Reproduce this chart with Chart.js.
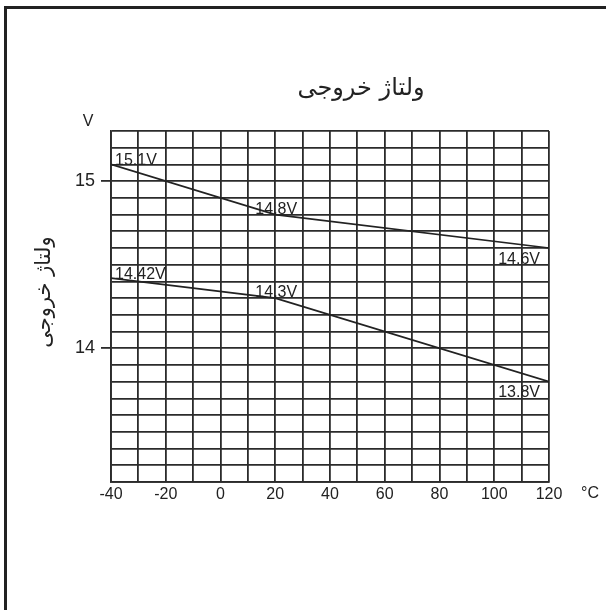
<!DOCTYPE html>
<html>
<head>
<meta charset="utf-8">
<script src="https://cdn.jsdelivr.net/npm/chart.js@4.4.1/dist/chart.umd.min.js"></script>
<style>
    html, body { margin: 0; padding: 0; background: #fff; }
    #wrap { position: relative; width: 606px; height: 610px; overflow: hidden; }
    #frame {
        position: absolute; left: 4px; top: 6px; width: 610px; height: 610px;
        border-left: 3px solid #222; border-top: 3px solid #222;
        pointer-events: none;
    }
</style>
</head>
<body>
<div id="wrap">
    <canvas id="chart" width="606" height="610"></canvas>
    <div id="frame"></div>
</div>
<script>
// Output voltage vs temperature
const temperatures = [-40, 20, 120];
const upperVoltage = [15.1, 14.8, 14.6];
const lowerVoltage = [14.42, 14.3, 13.8];
const xTickLabels = [-40, -20, 0, 20, 40, 60, 80, 100, 120];
const yTickLabels = [14, 15];
const chartTitle = 'ولتاژ خروجی';
const yAxisTitle = 'ولتاژ خروجی';
const xUnit = '°C';
const yUnit = 'V';

const ink = '#222';
const gridColor = '#2b2b2b';
const latin = '"Liberation Sans", Arial, sans-serif';
const arabic = '"DejaVu Sans", sans-serif';

const isLabelled = (list, v) => list.some(t => Math.abs(t - v) < 1e-6);

// Texts drawn on top: title, axis title, units, point values
const textPlugin = {
    id: 'texts',
    afterDraw(chart) {
        const ctx = chart.ctx;
        ctx.save();
        ctx.fillStyle = ink;

        // Title
        ctx.font = '24px ' + arabic;
        ctx.textAlign = 'center';
        ctx.textBaseline = 'alphabetic';
        ctx.fillText(chartTitle, 361, 95);

        // Y axis title (rotated)
        ctx.save();
        ctx.translate(50, 292);
        ctx.rotate(-Math.PI / 2);
        ctx.font = '21px ' + arabic;
        ctx.fillText(yAxisTitle, 0, 0);
        ctx.restore();

        // Units
        ctx.font = '16px ' + latin;
        ctx.textBaseline = 'middle';
        ctx.fillText(yUnit, 88, 122);
        ctx.fillText(xUnit, 590, 494);

        // Point values
        ctx.textBaseline = 'alphabetic';
        chart.data.datasets.forEach((ds, i) => {
            const meta = chart.getDatasetMeta(i);
            meta.data.forEach((pt, j) => {
                const text = ds.data[j].y + 'V';
                if (j === 0) {
                    ctx.textAlign = 'left';
                    ctx.fillText(text, pt.x + 4, pt.y + 0.5);
                } else if (j === meta.data.length - 1) {
                    ctx.textAlign = 'right';
                    ctx.fillText(text, pt.x - 9, pt.y + 15.5);
                } else {
                    ctx.textAlign = 'center';
                    ctx.fillText(text, pt.x + 1, pt.y - 1);
                }
            });
        });
        ctx.restore();
    }
};

function makeSeries(values) {
    return {
        data: temperatures.map((t, i) => ({ x: t, y: values[i] })),
        borderColor: ink,
        borderWidth: 1.7,
        pointRadius: 0,
        fill: false,
        tension: 0
    };
}

const ctx = document.getElementById('chart').getContext('2d');
new Chart(ctx, {
    type: 'line',
    data: {
        datasets: [makeSeries(upperVoltage), makeSeries(lowerVoltage)]
    },
    options: {
        responsive: false,
        animation: false,
        layout: {
            padding: { top: 131, right: 57, bottom: 0, left: 0 }
        },
        plugins: {
            legend: { display: false },
            title: { display: false },
            tooltip: { enabled: false }
        },
        scales: {
            x: {
                type: 'linear',
                min: -40,
                max: 120,
                afterFit: scale => { scale.height = 128; },
                afterBuildTicks: scale => {
                    const ticks = [];
                    for (let v = scale.min; v <= scale.max; v += 10) ticks.push({ value: v });
                    scale.ticks = ticks;
                },
                ticks: {
                    autoSkip: false,
                    maxRotation: 0,
                    padding: 3,
                    color: ink,
                    font: { family: latin, size: 16 },
                    callback: v => isLabelled(xTickLabels, v) ? String(v) : ''
                },
                grid: {
                    color: gridColor,
                    lineWidth: 1.8,
                    drawTicks: false
                },
                border: { color: gridColor, width: 1.8 }
            },
            y: {
                type: 'linear',
                min: 13.2,
                max: 15.3,
                afterFit: scale => { scale.width = 111; },
                afterBuildTicks: scale => {
                    const ticks = [];
                    for (let k = 132; k <= 153; k++) ticks.push({ value: k / 10 });
                    scale.ticks = ticks;
                },
                ticks: {
                    autoSkip: false,
                    padding: 6,
                    color: ink,
                    font: { family: latin, size: 18 },
                    callback: v => isLabelled(yTickLabels, v) ? String(Math.round(v)) : ''
                },
                grid: {
                    color: gridColor,
                    lineWidth: 1.8,
                    tickLength: 10,
                    tickColor: c => c.tick && isLabelled(yTickLabels, c.tick.value) ? gridColor : 'rgba(0,0,0,0)'
                },
                border: { color: gridColor, width: 1.8 }
            }
        }
    },
    plugins: [textPlugin]
});
</script>
</body>
</html>
